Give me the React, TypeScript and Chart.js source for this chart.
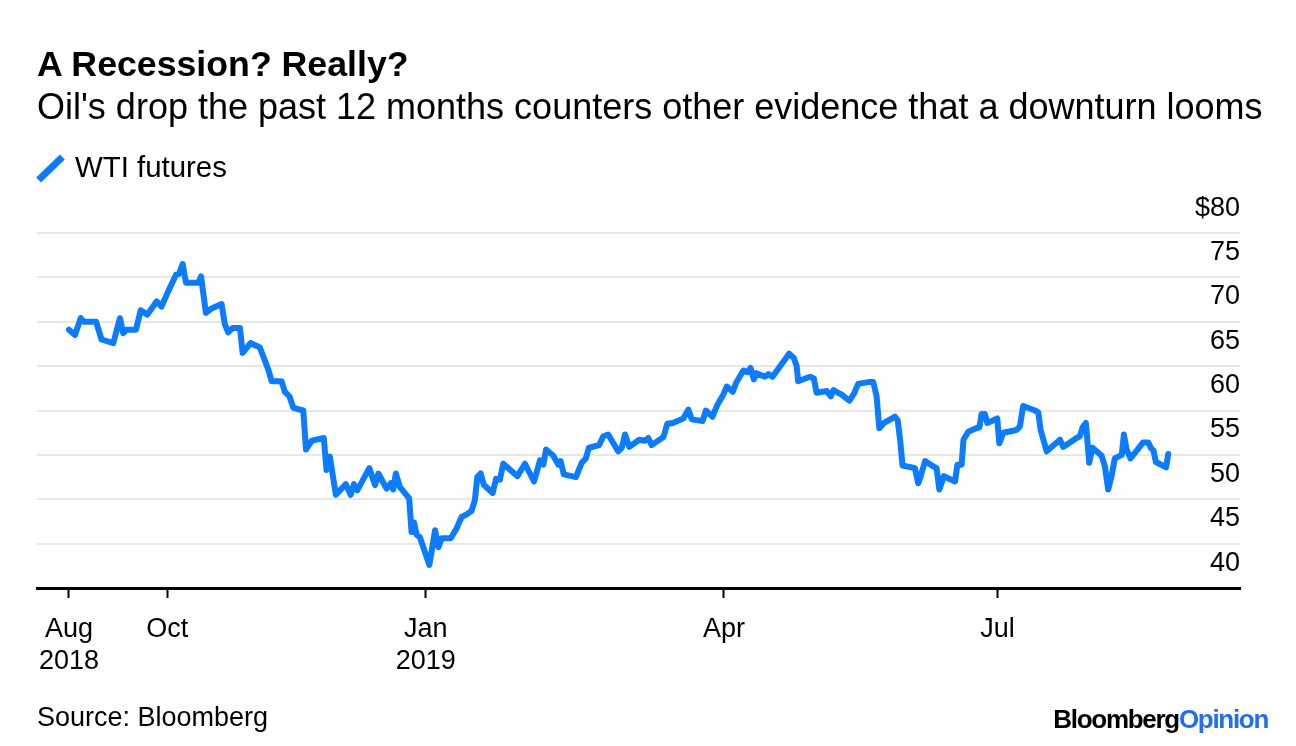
import React, { useEffect, useRef } from "react";
import { Chart, registerables } from "chart.js";

Chart.register(...registerables);

// Days counted from the first observation (late Aug 2018)
const tradingDays = [
  0, 2.0, 3.9, 5.0, 9.0, 10.8, 14.7, 16.9, 18.0, 19.1, 22.2, 23.8, 26.0, 29.1, 30.7, 32.6,
  35.5, 36.5, 37.7, 38.8, 42.9, 43.8, 45.4, 47.3, 50.6, 51.7, 52.8, 54.3, 56.7, 57.6, 60.2,
  63.3, 66.1, 67.2, 70.5, 71.6, 73.1, 74.4, 77.7, 78.6, 80.5, 84.5, 85.4, 86.5, 88.5, 91.8,
  93.4, 94.5, 95.6, 99.6, 101.5, 102.6, 105.3, 106.7, 107.5, 108.4, 109.7, 112.8, 113.6,
  114.4, 115.3, 116.4, 119.5, 121.4, 122.5, 123.6, 126.6, 128.5, 130.2, 131.9, 133.5, 134.6,
  135.4, 136.5, 137.6, 140.5, 141.6, 142.9, 144.0, 146.0, 148.7, 151.2, 154.2, 156.2, 157.3,
  158.2, 160.6, 162.3, 163.0, 164.1, 168.1, 170.0, 171.4, 172.4, 175.8, 177.2, 178.8, 182.1,
  183.3, 184.4, 185.8, 189.1, 191.0, 192.1, 193.2, 197.1, 198.4, 200.2, 203.7, 205.4, 206.5,
  210.1, 211.2, 213.4, 214.8, 217.0, 218.1, 220.1, 221.2, 223.6, 225.0, 226.0, 227.1, 228.0,
  230.8, 231.9, 233.3, 235.2, 238.8, 240.4, 241.3, 241.8, 245.7, 247.0, 247.9, 251.2, 252.6,
  253.5, 256.2, 258.8, 260.3, 261.7, 265.1, 266.7, 267.8, 268.7, 270.3, 273.9, 274.8, 275.6,
  276.4, 280.5, 281.6, 282.4, 283.9, 286.6, 287.7, 288.6, 290.1, 293.8, 294.6, 296.0, 296.6,
  298.2, 300.8, 301.9, 302.6, 303.7, 304.5, 307.8, 308.5, 309.8, 314.2, 315.3, 316.4, 320.3,
  321.4, 322.2, 324.2, 328.6, 329.7, 334.1, 335.2, 336.1, 337.2, 338.3, 339.4, 342.4, 343.5,
  344.6, 345.7, 346.8, 349.1, 349.8, 350.7, 352.0, 356.2, 357.9, 358.7, 359.6, 360.4, 363.8,
  364.5,
];

const wtiPrices = [
  69.1, 68.5, 70.4, 70.0, 70.0, 68.0, 67.6, 70.4, 68.7, 69.1, 69.1, 71.3, 70.8, 72.3, 71.7, 73.2,
  75.3, 75.4, 76.5, 74.4, 74.4, 75.1, 71.0, 71.5, 72.0, 69.7, 68.8, 69.3, 69.3, 66.5, 67.6,
  67.1, 64.6, 63.3, 63.3, 62.1, 61.6, 60.3, 60.0, 55.6, 56.6, 56.9, 53.3, 54.8, 50.5, 51.7,
  50.5, 51.7, 51.0, 53.5, 51.6, 52.9, 51.2, 51.8, 51.1, 52.9, 51.4, 50.1, 46.3,
  47.4, 46.0, 45.7, 42.6, 46.5, 44.6, 45.6, 45.6, 46.7, 48.0, 48.3, 48.7, 49.9,
  52.5, 52.9, 51.6, 50.7, 52.3, 52.2, 54.0, 53.4, 52.6, 54.0, 52.0, 54.4, 53.9,
  55.6, 54.9, 53.9, 54.3, 52.8, 52.5, 54.1, 54.6, 55.8, 56.1, 57.1, 57.3, 55.4,
  55.8, 57.3, 55.9, 56.7, 56.6, 56.9, 56.1, 57.0, 58.5, 58.6, 59.1, 60.1, 59.0,
  58.8, 60.0, 59.3, 60.5, 61.8, 62.7, 62.1, 63.1, 64.5, 64.3, 64.8, 63.5, 64.2,
  63.8, 64.1, 63.8, 64.7, 66.4, 65.9, 65.0, 63.3, 63.8, 63.6, 62.0, 62.2, 61.6,
  62.3, 61.8, 61.1, 61.9, 63.0, 63.2, 63.2, 61.6, 58.0, 58.6, 59.3, 58.9, 56.7,
  53.8, 53.5, 51.8, 52.6, 54.3, 53.7, 53.5, 51.1, 52.6, 52.0, 53.9, 53.9, 56.7,
  57.6, 58.0, 58.1, 59.6, 59.6, 58.6, 59.1, 56.3, 57.5, 57.8, 58.2, 60.5, 60.0,
  59.8, 57.8, 55.4, 56.7, 55.9, 56.9, 57.1, 58.1, 58.6, 54.1, 55.8, 54.9, 53.7,
  51.1, 52.6, 54.6, 55.0, 57.3, 55.6, 54.6, 56.4, 56.4, 55.8, 55.5, 54.2, 53.6,
  55.1,
];

const xTickDays = [0, 32.6, 118.3, 217.2, 307.9];
const xTickLabels = [["Aug", "2018"], ["Oct"], ["Jan", "2019"], ["Apr"], ["Jul"]];
const yTickValues = [40, 45, 50, 55, 60, 65, 70, 75, 80];
const yTickLabels = ["40", "45", "50", "55", "60", "65", "70", "75", "$80"];

const FONT = "'Liberation Sans', Arial, Helvetica, sans-serif";
const LINE_BLUE = "#0b7bff";

const yLabelPlugin = {
  id: "yLabelsAbove",
  afterDraw(chart: any) {
    const ys = chart.scales.y;
    const ctx = chart.ctx;
    ctx.save();
    ctx.font = `27px ${FONT}`;
    ctx.fillStyle = "#000";
    ctx.textAlign = "right";
    ctx.textBaseline = "alphabetic";
    yTickValues.forEach((v, i) => {
      const py = ys.getPixelForValue(v);
      ctx.fillText(yTickLabels[i], chart.chartArea.right, py - 17.5);
    });
    ctx.restore();
  },
};

function Text(props: { left?: number; right?: number; baseline: number; size: number; bold?: boolean; color?: string; spacing?: number; children: any }) {
  const { left, right, baseline, size, bold, color, spacing, children } = props;
  const style: any = {
    position: "absolute",
    top: baseline - 0.8465 * size,
    fontFamily: FONT,
    fontSize: size,
    lineHeight: `${size}px`,
    fontWeight: bold ? 700 : 400,
    color: color || "#000",
    whiteSpace: "nowrap",
    letterSpacing: spacing ? `${spacing}px` : "normal",
  };
  if (left !== undefined) style.left = left;
  if (right !== undefined) style.right = right;
  return <div style={style}>{children}</div>;
}

export default function App() {
  const canvasRef = useRef<HTMLCanvasElement | null>(null);

  useEffect(() => {
    const canvas = canvasRef.current;
    if (!canvas) return;
    const chart = new Chart(canvas, {
      type: "line",
      data: {
        datasets: [
          {
            label: "WTI futures",
            data: tradingDays.map((d, i) => ({ x: d, y: wtiPrices[i] })),
            borderColor: LINE_BLUE,
            borderWidth: 6,
            pointRadius: 0,
            fill: false,
            tension: 0,
            borderJoinStyle: "round",
            borderCapStyle: "round",
          },
        ],
      },
      options: {
        responsive: false,
        animation: false,
        events: [],
        layout: { padding: { left: 37, right: 56, top: 233, bottom: 58 } },
        plugins: { legend: { display: false }, tooltip: { enabled: false } },
        scales: {
          x: {
            type: "linear",
            min: -10.6,
            max: 388.3,
            afterBuildTicks: (axis: any) => {
              axis.ticks = xTickDays.map((v) => ({ value: v }));
            },
            afterFit: (axis: any) => {
              axis.height = 100;
            },
            grid: {
              drawOnChartArea: false,
              drawTicks: true,
              tickLength: 10,
              tickColor: "#000",
              tickWidth: 2,
            },
            border: { display: true, color: "#000", width: 3 },
            ticks: {
              autoSkip: false,
              maxRotation: 0,
              minRotation: 0,
              padding: 15,
              color: "#000",
              font: { family: FONT, size: 27, lineHeight: 1.2 },
              callback: (value: any) => {
                const idx = xTickDays.indexOf(Number(value));
                return idx >= 0 ? xTickLabels[idx] : "";
              },
            },
          },
          y: {
            type: "linear",
            min: 40,
            max: 80,
            afterBuildTicks: (axis: any) => {
              axis.ticks = yTickValues.map((v) => ({ value: v }));
            },
            afterFit: (axis: any) => {
              axis.width = 0;
            },
            grid: {
              color: (c: any) => (c.tick && c.tick.value === 40 ? "rgba(0,0,0,0)" : "#e8e8e8"),
              lineWidth: 2,
              drawTicks: false,
            },
            border: { display: false },
            ticks: { display: false },
          },
        },
      } as any,
      plugins: [yLabelPlugin],
    });
    return () => chart.destroy();
  }, []);

  return (
    <div style={{ position: "absolute", left: 0, top: 0, width: 1296, height: 746, background: "#fff", overflow: "hidden" }}>
      <canvas ref={canvasRef} width={1296} height={746} style={{ position: "absolute", left: 0, top: 0, width: 1296, height: 746 }} />
      <Text left={37} baseline={77} size={35.7} bold>A Recession? Really?</Text>
      <Text left={37} baseline={119} size={36}>Oil's drop the past 12 months counters other evidence that a downturn looms</Text>
      <div
        style={{
          position: "absolute",
          left: 50 - 16.5,
          top: 168 - 3.5,
          width: 33,
          height: 7,
          background: LINE_BLUE,
          transform: "rotate(-44deg)",
        }}
      />
      <Text left={75} baseline={177} size={29.4}>WTI futures</Text>
      <Text left={37} baseline={727} size={27}>Source: Bloomberg</Text>
      <Text right={28} baseline={728} size={26} bold spacing={-1.3}>
        <span style={{ color: "#000" }}>Bloomberg</span>
        <span style={{ color: "#1f6ff0" }}>Opinion</span>
      </Text>
    </div>
  );
}
